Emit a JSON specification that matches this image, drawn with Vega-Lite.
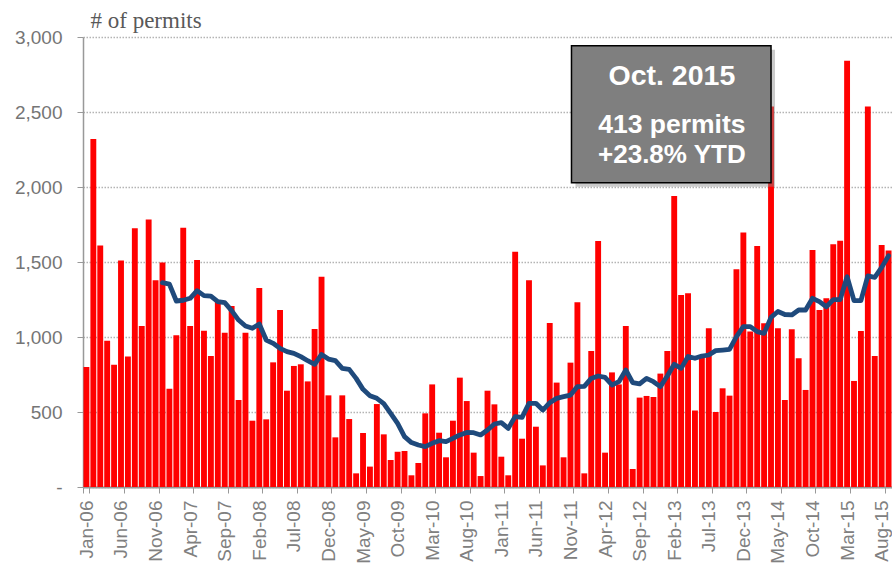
{
  "$schema": "https://vega.github.io/schema/vega-lite/v6.json",
  "width": 809,
  "height": 450,
  "autosize": {"type": "none"},
  "padding": {"left": 83, "top": 37, "right": 0, "bottom": 80},
  "background": "white",
  "config": {"view": {"stroke": null}, "font": "Liberation Sans"},
  "data": {"values": [
    {"m":"Jan-06","v":800},{"m":"Feb-06","v":2320},{"m":"Mar-06","v":1610},{"m":"Apr-06","v":975},
    {"m":"May-06","v":815},{"m":"Jun-06","v":1510},{"m":"Jul-06","v":870},{"m":"Aug-06","v":1725},
    {"m":"Sep-06","v":1073},{"m":"Oct-06","v":1784},{"m":"Nov-06","v":1378},{"m":"Dec-06","v":1496,"ma":1362},
    {"m":"Jan-07","v":655,"ma":1353},{"m":"Feb-07","v":1011,"ma":1240},{"m":"Mar-07","v":1729,"ma":1245},{"m":"Apr-07","v":1073,"ma":1258},
    {"m":"May-07","v":1513,"ma":1309},{"m":"Jun-07","v":1042,"ma":1276},{"m":"Jul-07","v":873,"ma":1273},{"m":"Aug-07","v":1236,"ma":1236},
    {"m":"Sep-07","v":1029,"ma":1229},{"m":"Oct-07","v":1207,"ma":1176},{"m":"Nov-07","v":580,"ma":1113},{"m":"Dec-07","v":1029,"ma":1073},
    {"m":"Jan-08","v":442,"ma":1058},{"m":"Feb-08","v":1327,"ma":1087},{"m":"Mar-08","v":451,"ma":980},{"m":"Apr-08","v":831,"ma":958},
    {"m":"May-08","v":1180,"ma":924},{"m":"Jun-08","v":642,"ma":902},{"m":"Jul-08","v":807,"ma":891},{"m":"Aug-08","v":818,"ma":869},
    {"m":"Sep-08","v":704,"ma":842},{"m":"Oct-08","v":1053,"ma":818},{"m":"Nov-08","v":1402,"ma":884},{"m":"Dec-08","v":611,"ma":853},
    {"m":"Jan-09","v":331,"ma":842},{"m":"Feb-09","v":611,"ma":791},{"m":"Mar-09","v":453,"ma":784},{"m":"Apr-09","v":91,"ma":724},
    {"m":"May-09","v":360,"ma":651},{"m":"Jun-09","v":136,"ma":609},{"m":"Jul-09","v":553,"ma":591},{"m":"Aug-09","v":351,"ma":556},
    {"m":"Sep-09","v":180,"ma":491},{"m":"Oct-09","v":235,"ma":424},{"m":"Nov-09","v":240,"ma":336},{"m":"Dec-09","v":78,"ma":296},
    {"m":"Jan-10","v":160,"ma":280},{"m":"Feb-10","v":491,"ma":269},{"m":"Mar-10","v":684,"ma":291},{"m":"Apr-10","v":362,"ma":309},
    {"m":"May-10","v":198,"ma":302},{"m":"Jun-10","v":442,"ma":324},{"m":"Jul-10","v":729,"ma":347},{"m":"Aug-10","v":573,"ma":364},
    {"m":"Sep-10","v":229,"ma":362},{"m":"Oct-10","v":73,"ma":347},{"m":"Nov-10","v":642,"ma":380},{"m":"Dec-10","v":551,"ma":420},
    {"m":"Jan-11","v":202,"ma":429},{"m":"Feb-11","v":78,"ma":391},{"m":"Mar-11","v":1569,"ma":469},{"m":"Apr-11","v":322,"ma":464},
    {"m":"May-11","v":1378,"ma":558},{"m":"Jun-11","v":402,"ma":558},{"m":"Jul-11","v":144,"ma":513},{"m":"Aug-11","v":1093,"ma":562},
    {"m":"Sep-11","v":696,"ma":591},{"m":"Oct-11","v":198,"ma":602},{"m":"Nov-11","v":829,"ma":613},{"m":"Dec-11","v":1231,"ma":669},
    {"m":"Jan-12","v":91,"ma":671},{"m":"Feb-12","v":907,"ma":724},{"m":"Mar-12","v":1640,"ma":740},{"m":"Apr-12","v":229,"ma":731},
    {"m":"May-12","v":764,"ma":680},{"m":"Jun-12","v":684,"ma":702},{"m":"Jul-12","v":1073,"ma":780},{"m":"Aug-12","v":120,"ma":696},
    {"m":"Sep-12","v":596,"ma":687},{"m":"Oct-12","v":607,"ma":724},{"m":"Nov-12","v":600,"ma":702},{"m":"Dec-12","v":756,"ma":669},
    {"m":"Jan-13","v":907,"ma":740},{"m":"Feb-13","v":1940,"ma":818},{"m":"Mar-13","v":1280,"ma":791},{"m":"Apr-13","v":1291,"ma":870},
    {"m":"May-13","v":510,"ma":858},{"m":"Jun-13","v":870,"ma":873},{"m":"Jul-13","v":1058,"ma":880},{"m":"Aug-13","v":500,"ma":909},
    {"m":"Sep-13","v":658,"ma":913},{"m":"Oct-13","v":609,"ma":918},{"m":"Nov-13","v":1451,"ma":1002},{"m":"Dec-13","v":1696,"ma":1069},
    {"m":"Jan-14","v":1036,"ma":1069},{"m":"Feb-14","v":1607,"ma":1036},{"m":"Mar-14","v":1091,"ma":1024},{"m":"Apr-14","v":2536,"ma":1131},
    {"m":"May-14","v":1058,"ma":1170},{"m":"Jun-14","v":580,"ma":1150},{"m":"Jul-14","v":1051,"ma":1147},{"m":"Aug-14","v":858,"ma":1180},
    {"m":"Sep-14","v":647,"ma":1180},{"m":"Oct-14","v":1580,"ma":1258},{"m":"Nov-14","v":1180,"ma":1236},{"m":"Dec-14","v":1258,"ma":1202},
    {"m":"Jan-15","v":1618,"ma":1249},{"m":"Feb-15","v":1642,"ma":1249},{"m":"Mar-15","v":2842,"ma":1402},{"m":"Apr-15","v":707,"ma":1242},
    {"m":"May-15","v":1040,"ma":1242},{"m":"Jun-15","v":2536,"ma":1407},{"m":"Jul-15","v":873,"ma":1398},{"m":"Aug-15","v":1613,"ma":1464},
    {"m":"Sep-15","v":1576,"ma":1542}
  ]},
  "layer": [
    {
      "mark": {"type": "bar", "color": "#FF0000"},
      "encoding": {
        "x": {
          "field": "m", "type": "ordinal", "sort": null,
          "scale": {"paddingInner": 0.15, "paddingOuter": 0.07},
          "axis": {
            "title": null,
            "values": ["Jan-06","Jun-06","Nov-06","Apr-07","Sep-07","Feb-08","Jul-08","Dec-08","May-09","Oct-09","Mar-10","Aug-10","Jan-11","Jun-11","Nov-11","Apr-12","Sep-12","Feb-13","Jul-13","Dec-13","May-14","Oct-14","Mar-15","Aug-15"],
            "labelAngle": -90, "labelAlign": "right", "labelBaseline": "middle",
            "labelFont": "Liberation Sans", "labelFontSize": 19, "labelColor": "#808080",
            "labelPadding": 7, "tickBand": "extent", "tickSize": 6, "tickColor": "#999999",
            "domainColor": "#999999", "domainWidth": 2, "grid": false
          }
        },
        "y": {
          "field": "v", "type": "quantitative",
          "scale": {"domain": [0, 3000], "nice": false},
          "axis": {
            "values": [0, 500, 1000, 1500, 2000, 2500, 3000],
            "labelExpr": "datum.value == 0 ? '-\u00a0\u00a0\u00a0' : format(datum.value, ',')",
            "labelFont": "Liberation Sans", "labelFontSize": 19, "labelColor": "#757575",
            "labelPadding": 15, "tickSize": 6, "tickColor": "#999999",
            "domainColor": "#999999", "domainWidth": 1.5,
            "grid": true, "gridColor": "#b4b4b4", "gridDash": [1.5, 1.5], "gridWidth": 1.3,
            "title": "# of permits", "titleAngle": 0, "titleAlign": "left", "titleBaseline": "alphabetic",
            "titleX": 7, "titleY": -10, "titleFont": "Liberation Serif", "titleFontSize": 23,
            "titleFontWeight": "normal", "titleColor": "#595959"
          }
        }
      }
    },
    {
      "transform": [{"filter": "datum.ma != null"}],
      "mark": {"type": "line", "color": "#1F4A7C", "strokeWidth": 4.8, "strokeJoin": "round", "strokeCap": "round"},
      "encoding": {
        "x": {"field": "m", "type": "ordinal", "sort": null},
        "y": {"field": "ma", "type": "quantitative"}
      }
    },
    {
      "data": {"values": [{"box": "shadow"}]},
      "mark": {"type": "rect", "fill": "#8c8c8c", "opacity": 0.45, "xOffset": 4, "yOffset": 4, "x2Offset": 4, "y2Offset": 4},
      "encoding": {
        "x": {"datum": "Nov-11", "type": "ordinal", "bandPosition": 0.67},
        "x2": {"datum": "Apr-14", "bandPosition": 0.5},
        "y": {"datum": 2942, "type": "quantitative"},
        "y2": {"datum": 2029}
      }
    },
    {
      "data": {"values": [{"box": "main"}]},
      "mark": {"type": "rect", "fill": "#7F7F7F", "stroke": "#000000", "strokeWidth": 1.5},
      "encoding": {
        "x": {"datum": "Nov-11", "type": "ordinal", "bandPosition": 0.67},
        "x2": {"datum": "Apr-14", "bandPosition": 0.5},
        "y": {"datum": 2942, "type": "quantitative"},
        "y2": {"datum": 2029}
      }
    },
    {
      "data": {"values": [{"t": "Oct. 2015"}]},
      "mark": {"type": "text", "font": "Liberation Sans", "fontWeight": "bold", "fontSize": 28.5, "color": "#FFFFFF", "baseline": "alphabetic", "align": "center"},
      "encoding": {
        "x": {"datum": "Feb-13", "type": "ordinal", "bandPosition": 0.1},
        "y": {"datum": 2680, "type": "quantitative"},
        "text": {"field": "t"}
      }
    },
    {
      "data": {"values": [{"t": "413 permits"}]},
      "mark": {"type": "text", "font": "Liberation Sans", "fontWeight": "bold", "fontSize": 26.5, "color": "#FFFFFF", "baseline": "alphabetic", "align": "center"},
      "encoding": {
        "x": {"datum": "Feb-13", "type": "ordinal", "bandPosition": 0.1},
        "y": {"datum": 2358, "type": "quantitative"},
        "text": {"field": "t"}
      }
    },
    {
      "data": {"values": [{"t": "+23.8% YTD"}]},
      "mark": {"type": "text", "font": "Liberation Sans", "fontWeight": "bold", "fontSize": 26, "color": "#FFFFFF", "baseline": "alphabetic", "align": "center"},
      "encoding": {
        "x": {"datum": "Feb-13", "type": "ordinal", "bandPosition": 0.1},
        "y": {"datum": 2162, "type": "quantitative"},
        "text": {"field": "t"}
      }
    }
  ]
}
